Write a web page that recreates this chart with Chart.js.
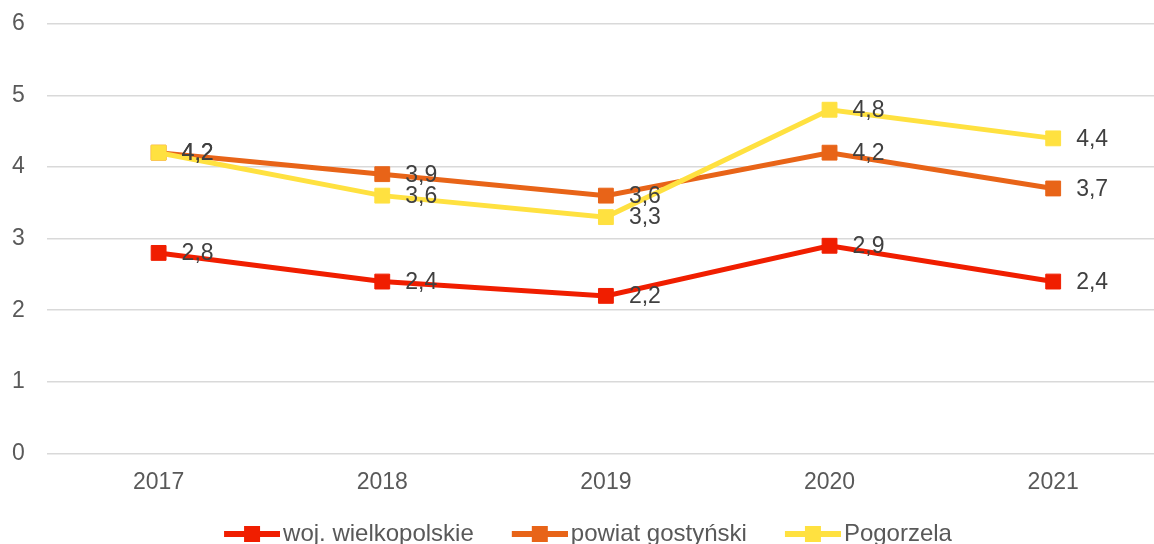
<!DOCTYPE html>
<html>
<head>
<meta charset="utf-8">
<script src="https://cdn.jsdelivr.net/npm/chart.js@4/dist/chart.umd.min.js"></script>
<style>
  html, body { margin: 0; padding: 0; background: #fff; overflow: hidden; }
  #wrap { width: 1166px; height: 556px; }
</style>
</head>
<body>
<div id="wrap"><canvas id="myChart" width="1166" height="556"></canvas></div>
<script>
const years = ['2017', '2018', '2019', '2020', '2021'];
const seriesNames = ['woj. wielkopolskie', 'powiat gostyński', 'Pogorzela'];
const wojValues = [2.8, 2.4, 2.2, 2.9, 2.4];
const powiatValues = [4.2, 3.9, 3.6, 4.2, 3.7];
const pogorzelaValues = [4.2, 3.6, 3.3, 4.8, 4.4];
const yTicks = [0, 1, 2, 3, 4, 5, 6];
const colors = ['#F01E00', '#E86418', '#FFE140'];
const fontFamily = '"Liberation Sans", Arial, sans-serif';

// legend marker: line with a square on it (left part left empty for spacing)
function legendMarker(color) {
    const c = document.createElement('canvas');
    c.width = 84;
    c.height = 18;
    const ctx = c.getContext('2d');
    ctx.strokeStyle = color;
    ctx.lineWidth = 6;
    ctx.beginPath();
    ctx.moveTo(28, 9);
    ctx.lineTo(84, 9);
    ctx.stroke();
    ctx.fillStyle = color;
    ctx.fillRect(48, 1, 16, 16);
    return c;
}

const valueLabels = {
    id: 'valueLabels',
    afterDatasetsDraw(chart) {
        const ctx = chart.ctx;
        ctx.save();
        ctx.font = '23px ' + fontFamily;
        ctx.fillStyle = '#404040';
        ctx.textAlign = 'left';
        ctx.textBaseline = 'middle';
        chart.data.datasets.forEach((ds, i) => {
            chart.getDatasetMeta(i).data.forEach((pt, j) => {
                ctx.fillText(String(ds.data[j]).replace('.', ','), pt.x + 23, pt.y + 1);
            });
        });
        ctx.restore();
    }
};

// nudge the legend a bit to the left
const legendShift = {
    id: 'legendShift',
    afterLayout(chart) {
        if (chart.legend) {
            chart.legend.left -= 5;
            chart.legend.right -= 5;
        }
    }
};

const allValues = [wojValues, powiatValues, pogorzelaValues];

new Chart(document.getElementById('myChart').getContext('2d'), {
    type: 'line',
    data: {
        labels: years,
        datasets: allValues.map((vals, i) => ({
            label: seriesNames[i],
            data: vals,
            borderColor: colors[i],
            backgroundColor: colors[i],
            pointBackgroundColor: colors[i],
            pointBorderColor: colors[i],
            borderWidth: 5,
            pointStyle: 'rect',
            pointRadius: 10.5,
            pointBorderWidth: 1,
            tension: 0,
            order: 3 - i
        }))
    },
    options: {
        responsive: false,
        animation: false,
        devicePixelRatio: 1,
        layout: { autoPadding: false, padding: { left: 2, right: 1, top: 0, bottom: 0 } },
        plugins: {
            tooltip: { enabled: false },
            legend: {
                display: true,
                position: 'bottom',
                labels: {
                    usePointStyle: true,
                    pointStyleWidth: 66,
                    padding: 19,
                    color: '#595959',
                    font: { family: fontFamily, size: 24 },
                    generateLabels(chart) {
                        return chart.data.datasets.map((ds, i) => ({
                            text: ds.label,
                            pointStyle: legendMarker(colors[i]),
                            fillStyle: colors[i],
                            strokeStyle: colors[i],
                            lineWidth: 0,
                            fontColor: '#595959',
                            datasetIndex: i,
                            hidden: false
                        }));
                    }
                }
            }
        },
        scales: {
            x: {
                offset: true,
                grid: { display: false },
                border: { display: false },
                ticks: {
                    color: '#595959',
                    padding: 7,
                    font: { family: fontFamily, size: 23 }
                }
            },
            y: {
                min: 0,
                max: 6,
                afterBuildTicks(axis) {
                    axis.ticks = yTicks.map(v => ({ value: v }));
                },
                grid: { color: '#D9D9D9', lineWidth: 1.5, drawTicks: true, tickLength: 12, tickColor: 'rgba(0,0,0,0)' },
                border: { display: false },
                ticks: {
                    color: '#595959',
                    padding: 10,
                    font: { family: fontFamily, size: 23 }
                }
            }
        }
    },
    plugins: [valueLabels, legendShift]
});
</script>
</body>
</html>
